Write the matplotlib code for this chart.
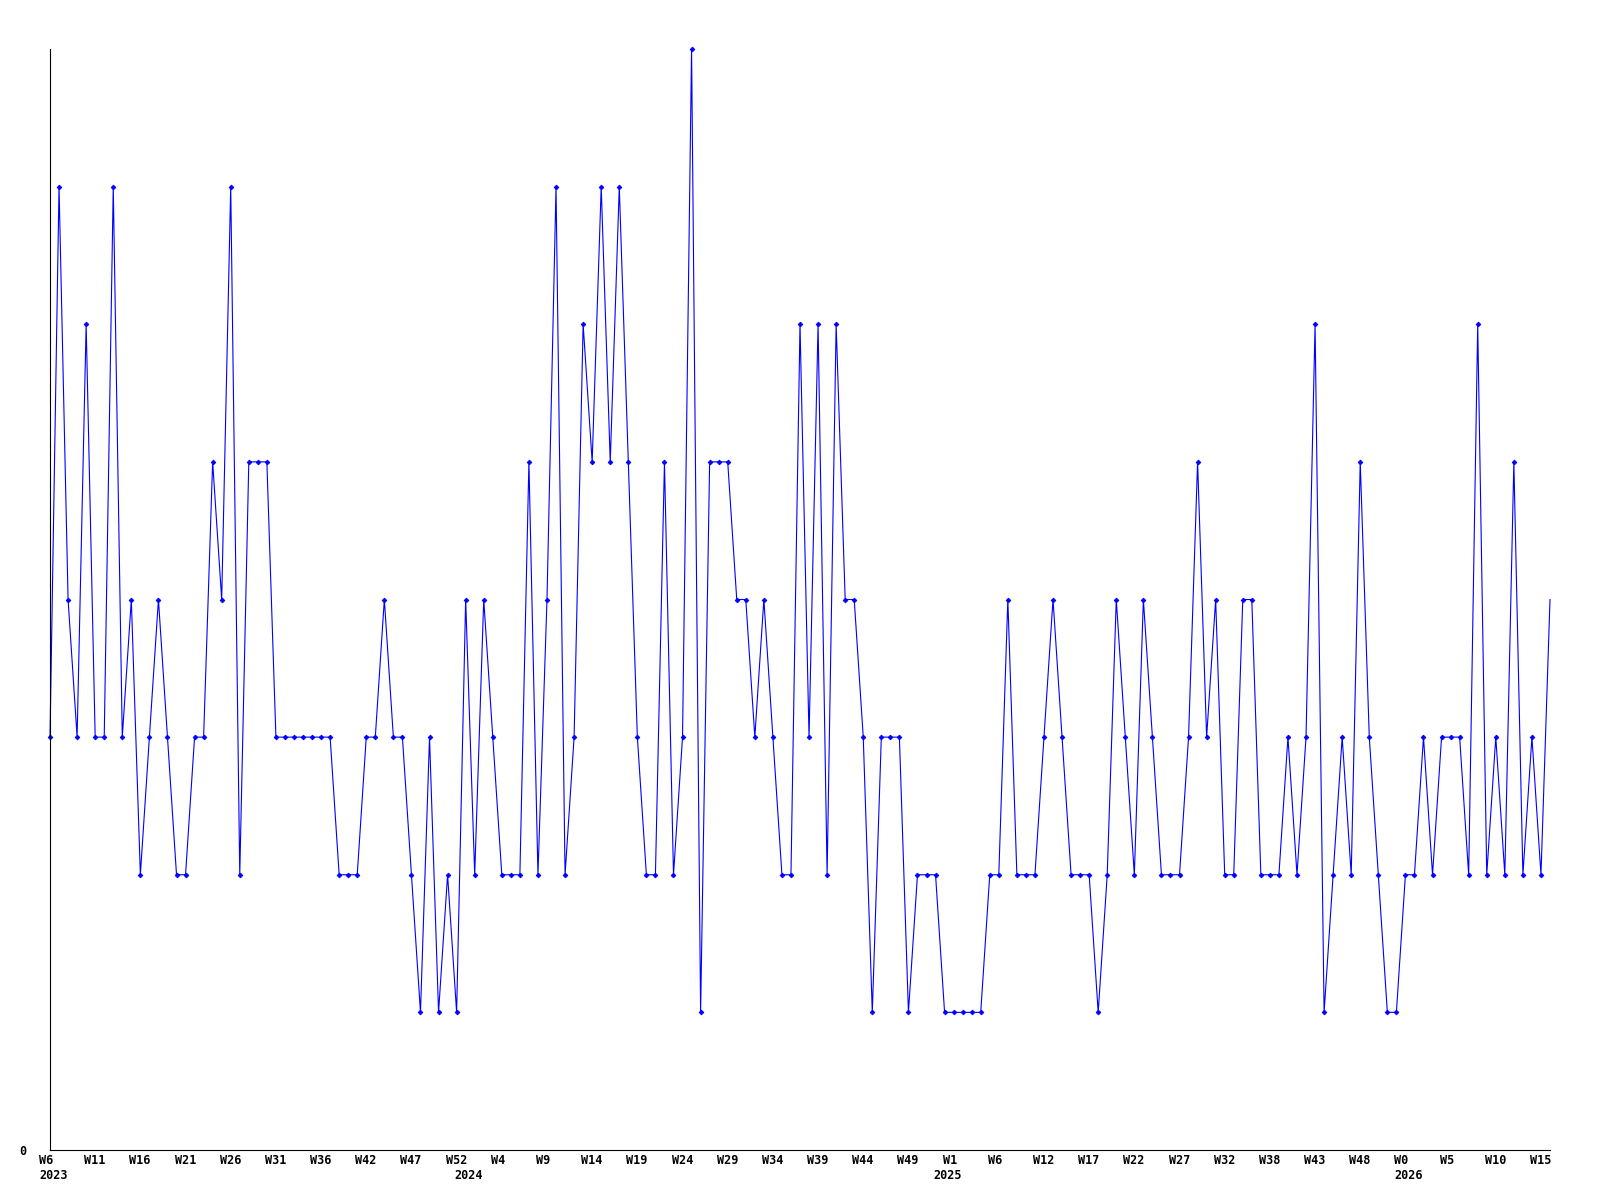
import numpy as np
import matplotlib
matplotlib.use("Agg")
import matplotlib.pyplot as plt
import matplotlib.transforms as mtransforms

# Weekly values (2023 W6 .. 2026 W15)
values = [
    3, 7, 4, 3, 6, 3, 3, 7, 3, 4,
    2, 3, 4, 3, 2, 2, 3, 3, 5, 4,
    7, 2, 5, 5, 5, 3, 3, 3, 3, 3,
    3, 3, 2, 2, 2, 3, 3, 4, 3, 3,
    2, 1, 3, 1, 2, 1, 4, 2, 4, 3,
    2, 2, 2, 5, 2, 4, 7, 2, 3, 6,
    5, 7, 5, 7, 5, 3, 2, 2, 5, 2,
    3, 8, 1, 5, 5, 5, 4, 4, 3, 4,
    3, 2, 2, 6, 3, 6, 2, 6, 4, 4,
    3, 1, 3, 3, 3, 1, 2, 2, 2, 1,
    1, 1, 1, 1, 2, 2, 4, 2, 2, 2,
    3, 4, 3, 2, 2, 2, 1, 2, 4, 3,
    2, 4, 3, 2, 2, 2, 3, 5, 3, 4,
    2, 2, 4, 4, 2, 2, 2, 3, 2, 3,
    6, 1, 2, 3, 2, 5, 3, 2, 1, 1,
    2, 2, 3, 2, 3, 3, 3, 2, 6, 2,
    3, 2, 5, 2, 3, 2, 4,
]

week_labels = ["W6", "W11", "W16", "W21", "W26", "W31", "W36", "W42", "W47", "W52",
               "W4", "W9", "W14", "W19", "W24", "W29", "W34", "W39", "W44", "W49",
               "W1", "W6", "W12", "W17", "W22", "W27", "W32", "W38", "W43", "W48",
               "W0", "W5", "W10", "W15"]
year_labels = ["2023", "2024", "2025", "2026"]
year_start_index = [0, 46, 99, 150]

fig = plt.figure(figsize=(16, 12), dpi=100)
ax = fig.add_axes([50 / 1600, 1 - 1150 / 1200, 1500 / 1600, 1101 / 1200])

x = np.arange(len(values))
ax.plot(x, values, color="#0000ff", lw=0.8, marker="D", ms=2.4, mew=0.6,
        markevery=slice(0, len(values) - 1), clip_on=False)

ax.set_xlim(0, len(values) - 1)
ax.set_ylim(0, 8)

font = dict(family="DejaVu Sans Mono", weight="bold", size=8.5)

ax.xaxis.remove_overlapping_locs = False
ax.set_xticks(x[::5][:len(week_labels)])
ax.set_xticklabels(week_labels, ha="left", **font)
ax.set_xticks(year_start_index, minor=True)
ax.set_xticklabels(year_labels, minor=True, ha="left", **font)
ax.tick_params(axis="x", which="major", length=0, pad=3)
ax.tick_params(axis="x", which="minor", length=0, pad=14)

shift = mtransforms.ScaledTranslation(-11 / 100, 0, fig.dpi_scale_trans)
for lab in ax.get_xticklabels(which="both"):
    lab.set_transform(lab.get_transform() + shift)

ax.set_yticks([0])
ax.set_yticklabels(["0"], **font)
ax.tick_params(axis="y", length=0, pad=17)

for s in ("top", "right"):
    ax.spines[s].set_visible(False)
for s in ("left", "bottom"):
    ax.spines[s].set_linewidth(0.8)
    ax.spines[s].set_color("black")

fig.savefig("out.png", dpi=100, facecolor="white")
